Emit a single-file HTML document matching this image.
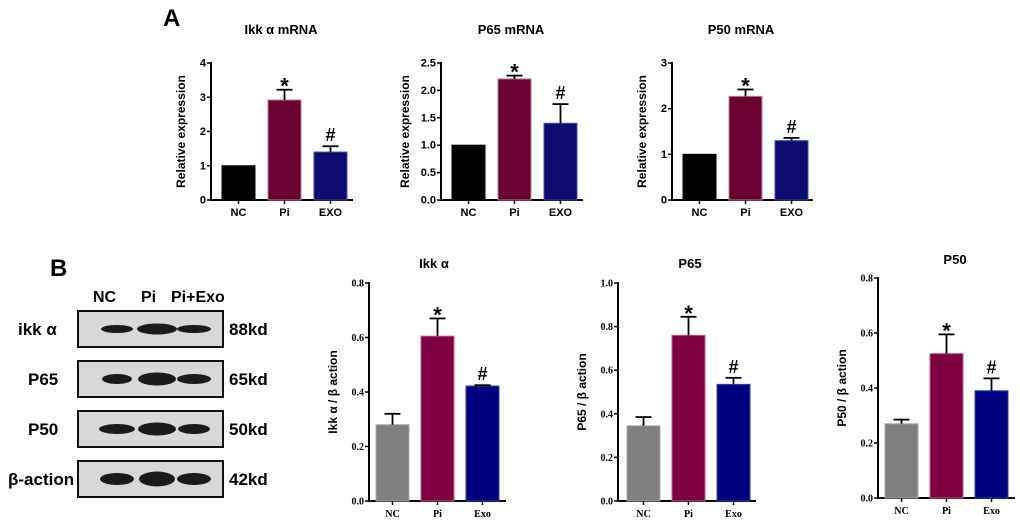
<!DOCTYPE html>
<html><head><meta charset="utf-8"><style>
html,body{margin:0;padding:0;background:#fff;}
body{width:1020px;height:520px;overflow:hidden;font-family:"Liberation Sans",Arial,sans-serif;}
</style></head><body>
<svg id="fig" width="1020" height="520" xmlns="http://www.w3.org/2000/svg" font-family="Liberation Sans, Arial, sans-serif">
<text x="163" y="26" font-size="24" font-weight="bold">A</text>
<text x="50" y="276" font-size="24" font-weight="bold">B</text>
<g>
<text x="93" y="302" font-size="16" font-weight="bold">NC</text>
<text x="141" y="302" font-size="16" font-weight="bold">Pi</text>
<text x="171" y="302" font-size="16" font-weight="bold">Pi+Exo</text>
<g id="blots"></g>
</g>
<g id="charts"></g>
</svg>
<script>
// ---- data ----
const catsA = ["NC","Pi","EXO"];
const catsB = ["NC","Pi","Exo"];
const ikkMrnaVals = [1, 2.92, 1.4];
const ikkMrnaErr = [0, 0.3, 0.17];
const p65MrnaVals = [1, 2.21, 1.4];
const p65MrnaErr = [0, 0.06, 0.35];
const p50MrnaVals = [1, 2.27, 1.3];
const p50MrnaErr = [0, 0.15, 0.06];
const ikkProtVals = [0.28, 0.605, 0.422];
const ikkProtErr = [0.04, 0.065, 0.003];
const p65ProtVals = [0.345, 0.76, 0.535];
const p65ProtErr = [0.04, 0.085, 0.03];
const p50ProtVals = [0.27, 0.525, 0.39];
const p50ProtErr = [0.015, 0.07, 0.045];
const ticksA1 = ["0","1","2","3","4"];
const ticksA2 = ["0.0","0.5","1.0","1.5","2.0","2.5"];
const ticksA3 = ["0","1","2","3"];
const ticksB1 = ["0.0","0.2","0.4","0.6","0.8"];
const ticksB2 = ["0.0","0.2","0.4","0.6","0.8","1.0"];
const ticksB3 = ["0.0","0.2","0.4","0.6","0.8"];
const marks = ["","*","#"];
const blotRows = ["ikk α","P65","P50","β-action"];
const blotKd = ["88kd","65kd","50kd","42kd"];

const NS="http://www.w3.org/2000/svg";
function mk(tag, attrs, parent, txt){
  const e=document.createElementNS(NS,tag);
  for(const k in attrs) e.setAttribute(k,attrs[k]);
  if(txt!==undefined) e.textContent=txt;
  parent.appendChild(e); return e;
}

function chart(o){
  const g=mk('g',{},document.getElementById('charts'));
  
  
  const yMax=parseFloat(o.ticks[o.ticks.length-1]);
  const y=v=>o.y0-(v/yMax)*(o.y0-o.y1);
  const fs=o.small?10:11;
  const tickFont=o.small?"Liberation Serif, serif":"Liberation Sans, sans-serif";
  const t=mk('text',{x:o.titleX,y:o.titleY,'font-size':13,'font-weight':'bold','text-anchor':'middle'},g,o.title);
  
  
  const yt=mk('text',{x:0,y:0,'font-size':12,'font-weight':'bold','text-anchor':'middle',transform:`translate(${o.ax-o.ytOff},${(o.y0+o.y1)/2}) rotate(-90)`},g,o.yTitle);
  
  
  const ya=mk('line',{x1:o.ax,y1:o.y1-1,x2:o.ax,y2:o.y0,stroke:'#000','stroke-width':2},g);
  
  
  const xa=mk('line',{x1:o.ax-1,y1:o.y0,x2:o.axEnd,y2:o.y0,stroke:'#000','stroke-width':2},g);
  
  
  o.ticks.forEach(tk=>{
    const v=parseFloat(tk), yy=y(v);
    mk('line',{x1:o.ax-4,y1:yy,x2:o.ax,y2:yy,stroke:'#000','stroke-width':1.5},g);
    const tl=mk('text',{x:o.ax-5,y:yy+3.5,'font-size':fs,'font-weight':'bold','text-anchor':'end','font-family':tickFont},g,tk);
    
    
  });
  o.cats.forEach((c,i)=>{
    const x0=o.bx+i*o.step, cx=x0+o.bw/2;
    const v=o.vals[i], e=o.err[i];
    const b=mk('rect',{x:x0,y:y(v),width:o.bw,height:o.y0-y(v),fill:o.colors[i],stroke:o.strokes[i],'stroke-width':1},g);
    
    
    if(e>0){
      mk('line',{x1:cx,y1:y(v),x2:cx,y2:y(v+e),stroke:'#000','stroke-width':1.8},g);
      mk('line',{x1:cx-8,y1:y(v+e),x2:cx+8,y2:y(v+e),stroke:'#000','stroke-width':1.8},g);
    }
    if(marks[i]){
      const star=marks[i]=='*';
      const m=mk('text',{x:cx,y:y(v+e)-(star?-4:5),'font-size':star?22:18,'font-weight':'bold','text-anchor':'middle'},g,marks[i]);
      
      
    }
    mk('line',{x1:cx,y1:o.y0,x2:cx,y2:o.y0+4,stroke:'#000','stroke-width':1.5},g);
    const xl=mk('text',{x:cx,y:o.y0+16,'font-size':fs,'font-weight':'bold','text-anchor':'middle','font-family':tickFont},g,c);
    
    
  });
}
const colA=["#000","#6b0032","#0c0c70"], strA=["#000","#c08090","#4050b0"];
const colB=["#7f7f7f","#7e0040","#00007e"], strB=["#aaa","#c06080","#3040c0"];
const aBase={y0:200,y1:63,bw:33,step:46,ytOff:26,cats:catsA,colors:colA,strokes:strA,yTitle:"Relative expression",titleY:34};
chart(Object.assign({},aBase,{name:'chart-ikk-mrna',title:'Ikk α mRNA',titleX:281,ax:211,axEnd:353,bx:222,vals:ikkMrnaVals,err:ikkMrnaErr,ticks:ticksA1}));
chart(Object.assign({},aBase,{name:'chart-p65-mrna',title:'P65 mRNA',titleX:511,ax:441,axEnd:583,bx:452,vals:p65MrnaVals,err:p65MrnaErr,ticks:ticksA2,ytOff:32}));
chart(Object.assign({},aBase,{name:'chart-p50-mrna',title:'P50 mRNA',titleX:741,ax:672,axEnd:813,bx:683,vals:p50MrnaVals,err:p50MrnaErr,ticks:ticksA3}));
const bBase={y0:501,y1:283,bw:33,step:45,ytOff:32,cats:catsB,colors:colB,strokes:strB,small:true,titleY:268};
chart(Object.assign({},bBase,{name:'chart-ikk-protein',title:'Ikk α',titleX:434,ax:369,axEnd:506,bx:376,vals:ikkProtVals,err:ikkProtErr,ticks:ticksB1,yTitle:'Ikk α / β action'}));
chart(Object.assign({},bBase,{name:'chart-p65-protein',title:'P65',titleX:690,ax:618,axEnd:756,bx:627,vals:p65ProtVals,err:p65ProtErr,ticks:ticksB2,yTitle:'P65 / β action'}));
chart(Object.assign({},bBase,{name:'chart-p50-protein',title:'P50',titleX:955,ax:878,axEnd:1015,bx:885,y0:498,y1:278,titleY:264,vals:p50ProtVals,err:p50ProtErr,ticks:ticksB3,yTitle:'P50 / β action'}));

// western blot
const blotTop=[311,361,411,461];
const bandW=[[32,40,34],[30,38,34],[36,38,32],[34,36,34]];
const bandH=[8,10,10,12];
const lanes=[117,157,194];
const bg=document.getElementById('blots');
blotRows.forEach((r,i)=>{
  const top=blotTop[i];
  const box=mk('rect',{x:78,y:top,width:145,height:36,fill:'#d8d8d8',stroke:'#111','stroke-width':2},bg);
  
  
  lanes.forEach((lx,j)=>{
    mk('ellipse',{cx:lx,cy:top+18,rx:bandW[i][j]/2,ry:bandH[i]/2+(j==1?1.5:0),fill:'#1a1a1a'},bg);
  });
  const lb=mk('text',{x:i==3?8:(i==0?18:28),y:top+24,'font-size':17,'font-weight':'bold'},bg,r);
  
  
  const kd=mk('text',{x:229,y:top+24,'font-size':17,'font-weight':'bold'},bg,blotKd[i]);
  
  
});
</script>
</body></html>
